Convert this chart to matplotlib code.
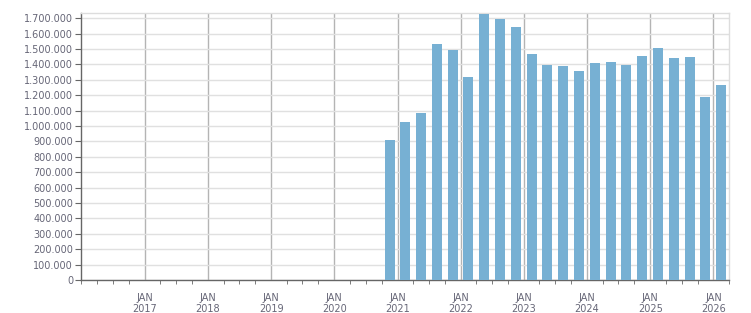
import numpy as np
import pandas as pd
import matplotlib
matplotlib.use("Agg")
import matplotlib.pyplot as plt
import matplotlib.dates as mdates
from matplotlib.ticker import FuncFormatter, MultipleLocator, FixedLocator

# data: quarterly values
quarters = ["2020Q4",
            "2021Q1", "2021Q2", "2021Q3", "2021Q4",
            "2022Q1", "2022Q2", "2022Q3", "2022Q4",
            "2023Q1", "2023Q2", "2023Q3", "2023Q4",
            "2024Q1", "2024Q2", "2024Q3", "2024Q4",
            "2025Q1", "2025Q2", "2025Q3", "2025Q4",
            "2026Q1"]
values = [909000,
          1026000, 1084000, 1532000, 1494000,
          1318000, 1727000, 1695000, 1643000,
          1468000, 1396000, 1390000, 1357000,
          1409000, 1416000, 1396000, 1455000,
          1506000, 1442000, 1448000, 1188000,
          1266000]
label_years = list(range(2017, 2027))

BAR_COLOR = "#77b0d3"
TEXT_COLOR = "#666677"

# bar centres at the middle of each quarter
periods = [pd.Period(q, freq="Q") for q in quarters]
centres = [p.start_time + (p.end_time - p.start_time) / 2 for p in periods]
x = mdates.date2num(centres)

fig = plt.figure(figsize=(7.51, 3.13), dpi=100)
ax = fig.add_axes([0.1085, 0.1054, 0.8622, 0.852])

ax.bar(x, values, width=58, color=BAR_COLOR, zorder=3)

ax.set_xlim(mdates.date2num(pd.Timestamp("2016-01-01")),
            mdates.date2num(pd.Timestamp("2026-04-01")))
ax.set_ylim(0, 1732000)

# y axis
ax.yaxis.set_major_locator(MultipleLocator(100000))
ax.yaxis.set_major_formatter(FuncFormatter(lambda v, _: f"{int(v):,}".replace(",", ".")))
ax.grid(axis="y", color="#e0e0e0", linewidth=1, zorder=0)

# x axis: JAN labels, quarter ticks
jan_pos = mdates.date2num([pd.Timestamp(f"{y}-01-01") for y in label_years])
ax.xaxis.set_major_locator(FixedLocator(jan_pos))
ax.xaxis.set_major_formatter(FuncFormatter(lambda v, _: "JAN\n" + mdates.num2date(v).strftime("%Y")))
ax.xaxis.set_minor_locator(mdates.MonthLocator(bymonth=[1, 4, 7, 10]))
for p in jan_pos:
    ax.axvline(p, color="#b4b4b4", linewidth=1, zorder=1)

ax.tick_params(axis="x", which="major", length=0, pad=9, labelsize=7, colors=TEXT_COLOR)
ax.tick_params(axis="x", which="minor", length=3, color="#666666")
ax.tick_params(axis="y", which="major", length=4, pad=2, labelsize=7, colors=TEXT_COLOR)
ax.tick_params(axis="y", color="#666666")

for side in ["left", "bottom"]:
    ax.spines[side].set_color("#666666")
    ax.spines[side].set_linewidth(1)
for side in ["top", "right"]:
    ax.spines[side].set_color("#dddddd")
    ax.spines[side].set_linewidth(1)

fig.savefig("out.png", dpi=100)
